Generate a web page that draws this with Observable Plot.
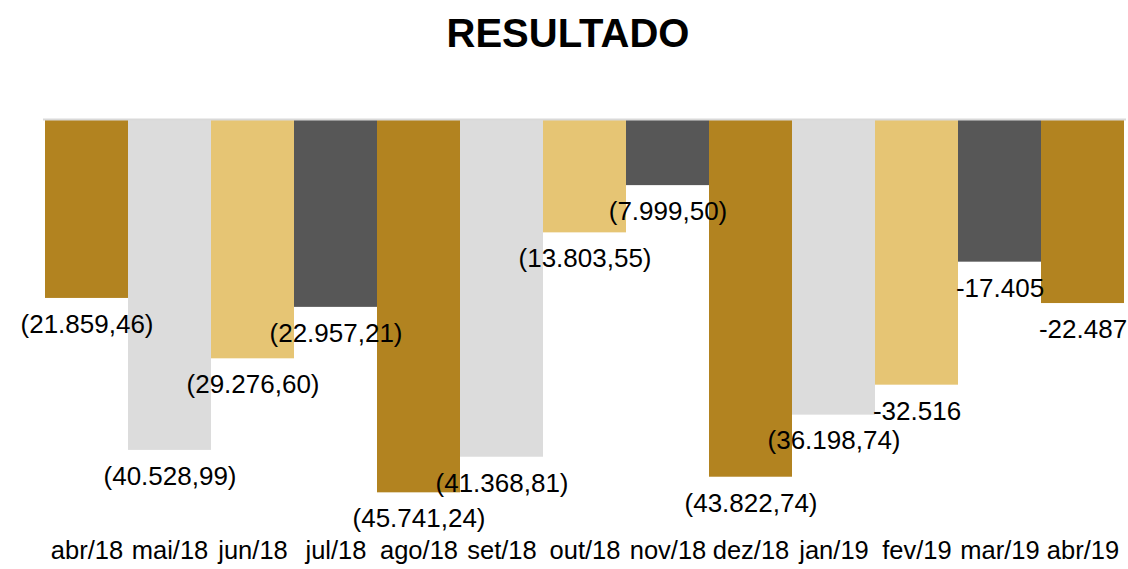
<!DOCTYPE html>
<html>
<head>
<meta charset="utf-8">
<script src="https://cdn.jsdelivr.net/npm/d3@7"></script>
<script src="https://cdn.jsdelivr.net/npm/@observablehq/plot@0.6"></script>
<style>
  html, body { margin: 0; padding: 0; background: #fff; }
  body { width: 1128px; height: 569px; overflow: hidden; font-family: "Liberation Sans", Arial, sans-serif; }
  #title { height: 70px; line-height: 66px; text-align: center; font-weight: bold; font-size: 40px; color: #000; padding-left: 8px; }
</style>
</head>
<body>
<div id="title">RESULTADO</div>
<div id="chart"></div>
<script>
const months = ["abr/18","mai/18","jun/18","jul/18","ago/18","set/18","out/18","nov/18","dez/18","jan/19","fev/19","mar/19","abr/19"];
const values = [-21859.46,-40528.99,-29276.60,-22957.21,-45741.24,-41368.81,-13803.55,-7999.50,-43822.74,-36198.74,-32516,-17405,-22487];
const labels = ["(21.859,46)","(40.528,99)","(29.276,60)","(22.957,21)","(45.741,24)","(41.368,81)","(13.803,55)","(7.999,50)","(43.822,74)","(36.198,74)","-32.516","-17.405","-22.487"];

const palette = ["#B28320", "#DCDCDC", "#E6C574", "#575757"];
const data = months.map((m, i) => ({month: m, value: values[i], label: labels[i], color: palette[i % 4]}));

const chart = Plot.plot({
  width: 1128,
  height: 499,
  marginTop: 50,
  marginBottom: 42,
  marginLeft: 43,
  marginRight: 2,
  style: {fontFamily: "'Liberation Sans', Arial, sans-serif", color: "#000", background: "#fff"},
  x: {domain: months, padding: 0, axis: null},
  y: {domain: [-50000, 0], axis: null},
  marks: [
    Plot.barY(data, {x: "month", y: "value", fill: "color", inset: 0}),
    Plot.ruleY([0], {stroke: "#D9D9D9", strokeWidth: 2, dy: -1}),
    Plot.text(data, {x: "month", y: "value", text: "label", dy: 26, fontSize: 26, fill: "#000"}),
    Plot.text(months, {x: d => d, text: d => d, frameAnchor: "bottom", dy: 31, fontSize: 25.5, fill: "#000"})
  ]
});
document.getElementById("chart").appendChild(chart);
</script>
</body>
</html>
